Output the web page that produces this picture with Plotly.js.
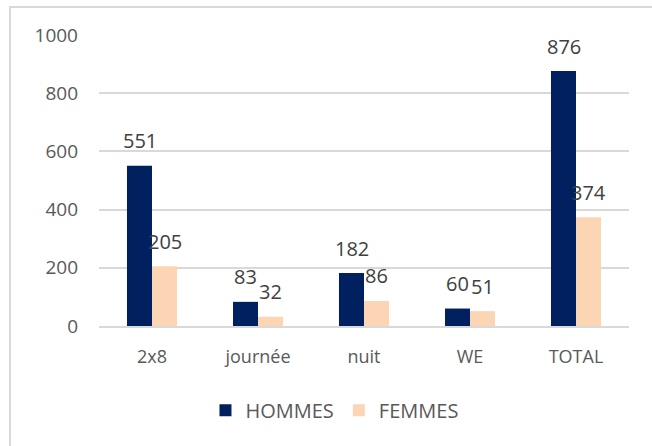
<!DOCTYPE html>
<html>
<head>
<meta charset="utf-8">
<script src="https://cdn.plot.ly/plotly-3.0.1.min.js"></script>
<style>
  html, body { margin: 0; padding: 0; background: #fff; }
  #wrap { position: relative; width: 652px; height: 446px; }
  #chart { width: 652px; height: 446px; }
  #frame { position: absolute; left: 9px; top: 6px; width: 700px; height: 500px;
           border-left: 2px solid #D9D9D9; border-top: 2px solid #D9D9D9; pointer-events: none; }
</style>
</head>
<body>
<div id="wrap">
  <div id="chart"></div>
  <div id="frame"></div>
</div>
<script>
const categories = ["2x8", "journée", "nuit", "WE", "TOTAL"];
const hommes = [551, 83, 182, 60, 876];
const femmes = [205, 32, 86, 51, 374];
const seriesNames = ["HOMMES", "FEMMES"];
const yTicks = [0, 200, 400, 600, 800, 1000];

const FONT = "'Open Sans', sans-serif";
const colH = "#002060";
const colF = "#FCD5B5";

const traces = [
  { type: "bar", name: seriesNames[0], x: categories, y: hommes,
    marker: { color: colH }, hoverinfo: "none" },
  { type: "bar", name: seriesNames[1], x: categories, y: femmes,
    marker: { color: colF }, hoverinfo: "none" }
];

const annotations = [];
[[hommes, -12.5], [femmes, 12.5]].forEach(([vals, dx]) => {
  vals.forEach((v, i) => {
    annotations.push({
      x: categories[i], y: v, xref: "x", yref: "y",
      text: String(v), showarrow: false,
      xanchor: "center", yanchor: "middle",
      xshift: dx, yshift: 25,
      font: { family: FONT, size: 20, color: "#404040" }
    });
  });
});

const layout = {
  width: 652, height: 446,
  margin: { l: 99, r: 23, t: 35, b: 120 },
  paper_bgcolor: "#fff", plot_bgcolor: "#fff",
  barmode: "group", bargap: 0.528, bargroupgap: 0,
  font: { family: FONT, size: 18, color: "#595959" },
  xaxis: {
    type: "category", showgrid: false, showline: true,
    linecolor: "#D9D9D9", linewidth: 2, ticks: "",
    ticklabelstandoff: 13,
    tickfont: { family: FONT, size: 18, color: "#595959" },
    fixedrange: true
  },
  yaxis: {
    range: [0, 1000], tickvals: yTicks, ticktext: yTicks.map(String),
    showgrid: true, gridcolor: "#D9D9D9", gridwidth: 2,
    zeroline: false, showline: false, ticks: "",
    ticklabelstandoff: 20,
    tickfont: { family: FONT, size: 19, color: "#595959" },
    fixedrange: true
  },
  showlegend: true,
  legend: {
    orientation: "h", xref: "container", yref: "container",
    x: 0.513, xanchor: "center", y: 0.08, yanchor: "middle",
    font: { family: FONT, size: 20, color: "#595959" },
    itemwidth: 30, traceorder: "normal"
  },
  annotations: annotations
};

Plotly.newPlot("chart", traces, layout, { displayModeBar: false, staticPlot: true });
</script>
</body>
</html>
